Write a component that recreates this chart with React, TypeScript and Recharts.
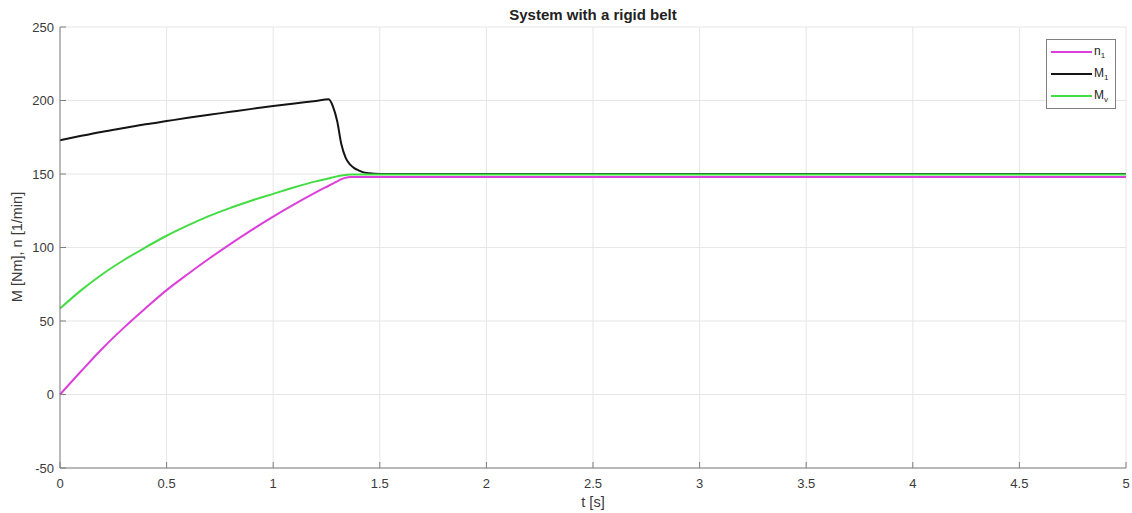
import { CartesianGrid, Legend, Line, LineChart, XAxis, YAxis } from "recharts";

const tValues = [
  0, 0.1, 0.2, 0.3, 0.4, 0.5, 0.6, 0.7, 0.8, 0.9, 1.0, 1.1, 1.2, 1.26, 1.28, 1.3, 1.32, 1.34, 1.36,
  1.38, 1.4, 1.42, 1.45, 1.5, 2, 2.5, 3, 3.5, 4, 4.5, 5,
];
const n1Values = [
  0, 16, 31.5, 45.5, 58.5, 71, 82, 92.5, 102.5, 112, 121, 129.5, 137.5, 142, 143.5, 145, 146.5, 147.5,
  148, 148, 148, 148, 148, 148, 148, 148, 148, 148, 148, 148, 148,
];
const m1Values = [
  173, 176, 178.8, 181.3, 183.8, 186, 188.2, 190.3, 192.3, 194.3, 196.2, 198, 199.7, 200.8, 196, 186,
  170, 161, 156.5, 154, 152.5, 151.3, 150.5, 150, 150, 150, 150, 150, 150, 150, 150,
];
const mvValues = [
  58.5, 71, 82, 91.5, 100, 108, 115, 121.5, 127, 132, 136.5, 141, 145, 147, 147.7, 148.4, 149, 149.4,
  149.6, 149.7, 149.7, 149.7, 149.7, 149.7, 149.7, 149.7, 149.7, 149.7, 149.7, 149.7, 149.7,
];

const xTicks = [0, 0.5, 1, 1.5, 2, 2.5, 3, 3.5, 4, 4.5, 5];
const yTicks = [-50, 0, 50, 100, 150, 200, 250];

const series = [
  { key: "n1", label: "n", sub: "1", color: "#dc3fdc" },
  { key: "m1", label: "M", sub: "1", color: "#141414" },
  { key: "mv", label: "M", sub: "v", color: "#44dc44" },
];

const data = tValues.map((t, i) => ({ t, n1: n1Values[i], m1: m1Values[i], mv: mvValues[i] }));

const FONT = '"Liberation Sans", Arial, Helvetica, sans-serif';
const AXIS = "#7f7f7f";
const TEXT = "#3a3a3a";

function LegendBox() {
  return (
    <div
      style={{
        boxSizing: "border-box",
        width: 70,
        height: 70,
        border: `1px solid ${AXIS}`,
        background: "#fff",
        paddingTop: 1,
        fontFamily: FONT,
        fontSize: 12,
        color: "#222",
      }}
    >
      {series.map((s) => (
        <div key={s.key} style={{ display: "flex", alignItems: "center", height: 22, paddingLeft: 4 }}>
          <span style={{ display: "inline-block", width: 41, height: 2, background: s.color, marginRight: 2 }} />
          <span>
            {s.label}
            <sub style={{ fontSize: 8 }}>{s.sub}</sub>
          </span>
        </div>
      ))}
    </div>
  );
}

export default function App() {
  return (
    <div style={{ position: "absolute", left: 0, top: 0, width: 1132, height: 513, background: "#fff", fontFamily: FONT }}>
      <div
        style={{
          position: "absolute",
          left: 60,
          width: 1066,
          top: 6,
          textAlign: "center",
          fontWeight: "bold",
          fontSize: 15,
          lineHeight: "17px",
          color: "#222",
        }}
      >
        System with a rigid belt
      </div>
      <div
        style={{
          position: "absolute",
          left: 60,
          width: 1066,
          top: 494,
          textAlign: "center",
          fontSize: 14.5,
          lineHeight: "17px",
          color: TEXT,
        }}
      >
        t [s]
      </div>
      <div
        style={{
          position: "absolute",
          left: 17,
          top: 247,
          transform: "translate(-50%, -50%) rotate(-90deg)",
          whiteSpace: "nowrap",
          fontSize: 14.5,
          color: TEXT,
        }}
      >
        M [Nm], n [1/min]
      </div>
      <LineChart width={1132} height={513} data={data} margin={{ top: 27, right: 6, bottom: 0, left: 0 }}>
        <CartesianGrid xAxisId="b" yAxisId="l" stroke="#e6e6e6" />
        <XAxis
          xAxisId="b"
          dataKey="t"
          type="number"
          domain={[0, 5]}
          ticks={xTicks}
          height={45}
          stroke={AXIS}
          tickSize={-6}
          tickMargin={17}
          tick={{ fill: TEXT, fontSize: 13, fontFamily: FONT }}
        />
        <XAxis
          xAxisId="t"
          orientation="top"
          dataKey="t"
          type="number"
          domain={[0, 5]}
          ticks={xTicks}
          height={0}
          stroke={AXIS}
          tickSize={-6}
          tickFormatter={() => ""}
        />
        <YAxis
          yAxisId="l"
          type="number"
          domain={[-50, 250]}
          ticks={yTicks}
          width={60}
          stroke={AXIS}
          tickSize={-6}
          tickMargin={12}
          tick={{ fill: TEXT, fontSize: 13, fontFamily: FONT }}
        />
        <YAxis
          yAxisId="r"
          orientation="right"
          type="number"
          domain={[-50, 250]}
          ticks={yTicks}
          width={0}
          stroke={AXIS}
          tickSize={-6}
          tickFormatter={() => ""}
        />
        <Legend
          layout="vertical"
          verticalAlign="middle"
          align="center"
          content={() => <LegendBox />}
          wrapperStyle={{ top: 39, left: 1046, right: "auto", bottom: "auto", width: 70, height: 70 }}
        />
        {series.map((s) => (
          <Line
            key={s.key}
            xAxisId="b"
            yAxisId="l"
            type="monotone"
            dataKey={s.key}
            stroke={s.color}
            strokeWidth={2}
            dot={false}
            isAnimationActive={false}
          />
        ))}
      </LineChart>
    </div>
  );
}
